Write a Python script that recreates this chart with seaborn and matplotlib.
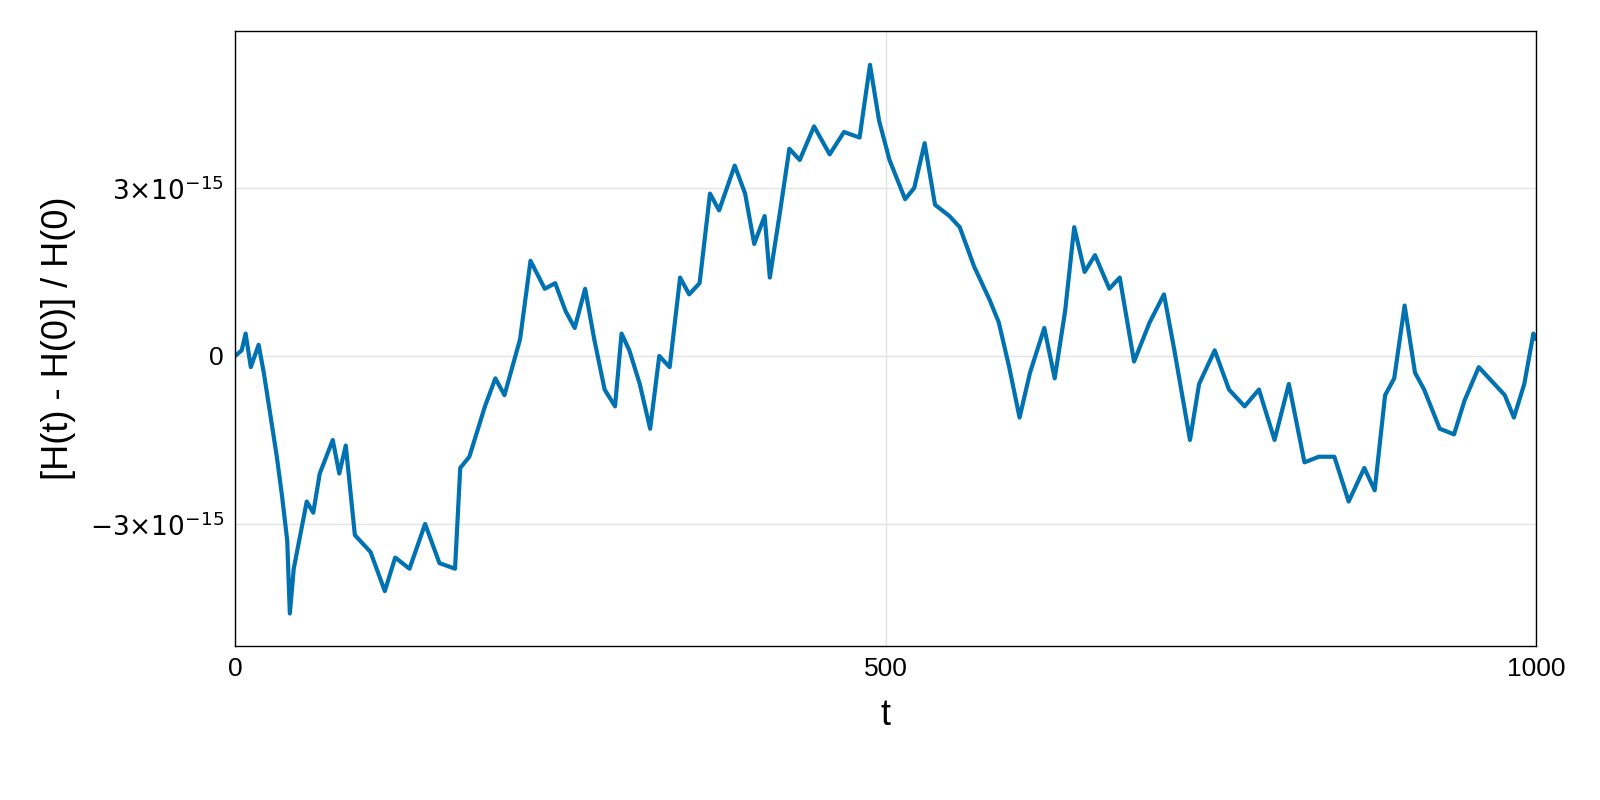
import matplotlib
matplotlib.use("Agg")
import matplotlib.pyplot as plt
import seaborn as sns
import numpy as np

t = [0, 5, 8, 12, 18, 22, 28, 32, 36, 40, 42, 45, 50, 55, 60, 65, 70, 75, 80, 85, 92, 104, 115, 123, 134, 146, 157, 169, 173, 180, 192, 200, 207, 219, 227, 238, 246, 254, 261, 269, 276, 284, 292, 297, 303, 311, 319, 326, 334, 342, 349, 357, 365, 372, 384, 392, 399, 407, 411, 419, 426, 434, 445, 457, 468, 480, 488, 495, 503, 515, 522, 530, 538, 549, 557, 568, 580, 587, 595, 603, 611, 622, 630, 638, 645, 653, 661, 672, 680, 691, 703, 714, 722, 734, 741, 753, 764, 776, 787, 799, 810, 822, 833, 845, 856, 868, 876, 884, 891, 899, 907, 914, 926, 937, 945, 956, 968, 976, 983, 991, 998, 1000]
err = [0.0, 0.1, 0.4, -0.2, 0.2, -0.3, -1.2, -1.8, -2.5, -3.3, -4.6, -3.8, -3.2, -2.6, -2.8, -2.1, -1.8, -1.5, -2.1, -1.6, -3.2, -3.5, -4.2, -3.6, -3.8, -3.0, -3.7, -3.8, -2.0, -1.8, -0.9, -0.4, -0.7, 0.3, 1.7, 1.2, 1.3, 0.8, 0.5, 1.2, 0.3, -0.6, -0.9, 0.4, 0.1, -0.5, -1.3, 0.0, -0.2, 1.4, 1.1, 1.3, 2.9, 2.6, 3.4, 2.9, 2.0, 2.5, 1.4, 2.6, 3.7, 3.5, 4.1, 3.6, 4.0, 3.9, 5.2, 4.2, 3.5, 2.8, 3.0, 3.8, 2.7, 2.5, 2.3, 1.6, 1.0, 0.6, -0.2, -1.1, -0.3, 0.5, -0.4, 0.8, 2.3, 1.5, 1.8, 1.2, 1.4, -0.1, 0.6, 1.1, 0.1, -1.5, -0.5, 0.1, -0.6, -0.9, -0.6, -1.5, -0.5, -1.9, -1.8, -1.8, -2.6, -2.0, -2.4, -0.7, -0.4, 0.9, -0.3, -0.6, -1.3, -1.4, -0.8, -0.2, -0.5, -0.7, -1.1, -0.5, 0.4, 0.3]
err = [v * 1e-15 for v in err]

sns.set_style("white")
plt.rcParams['font.family'] = ['Liberation Sans', 'DejaVu Sans']
plt.rcParams['text.color'] = 'black'
plt.rcParams['axes.labelcolor'] = 'black'
plt.rcParams['xtick.color'] = 'black'
plt.rcParams['ytick.color'] = 'black'
fig = plt.figure(figsize=(16, 8), dpi=100)
ax = fig.add_axes([0.147, 0.1925, 0.813, 0.7685])
sns.lineplot(x=t, y=err, ax=ax, color="#0072B2", linewidth=3)
ax.set_xlim(0, 1000)
ax.set_ylim(-5.18e-15, 5.8e-15)
ax.set_xticks([0, 500, 1000])
ax.set_xticklabels(["0", "500", "1000"], fontsize=19)
ax.set_yticks([-3e-15, 0, 3e-15])
ax.set_yticklabels([r"$-3{\times}10^{-15}$", "0", r"$3{\times}10^{-15}$"], fontsize=19)
ax.grid(True, color="#e3e3e3", linewidth=1)
ax.set_axisbelow(True)
ax.tick_params(length=0, pad=8)
for s in ax.spines.values():
    s.set_color("black"); s.set_linewidth(1)
ax.set_xlabel("t", fontsize=26, labelpad=12)
ax.set_ylabel("[H(t) - H(0)] / H(0)", fontsize=26, labelpad=10)
fig.savefig("out.png", dpi=100)
